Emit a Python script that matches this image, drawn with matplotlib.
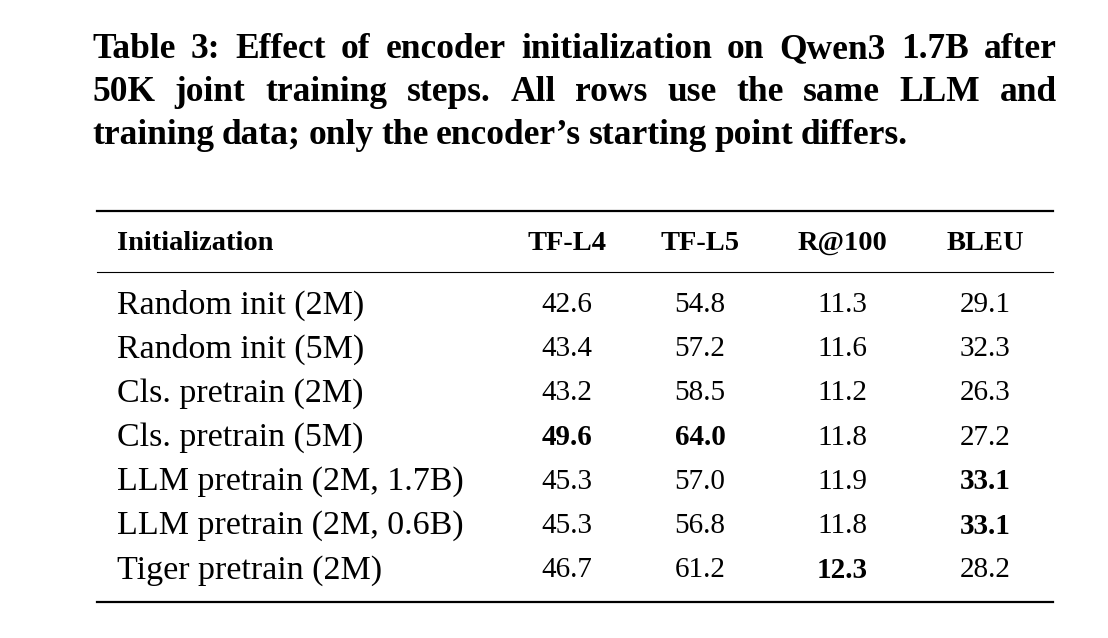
import matplotlib.pyplot as plt

W, H = 1108, 638

caption = [
    "Table 3: Effect of encoder initialization on Qwen3 1.7B after",
    "50K joint training steps. All rows use the same LLM and",
    "training data; only the encoder\u2019s starting point differs.",
]
header = ["Initialization", "TF-L4", "TF-L5", "R@100", "BLEU"]
rows = [
    "Random init (2M)",
    "Random init (5M)",
    "Cls. pretrain (2M)",
    "Cls. pretrain (5M)",
    "LLM pretrain (2M, 1.7B)",
    "LLM pretrain (2M, 0.6B)",
    "Tiger pretrain (2M)",
]
tf_l4 = [42.6, 43.4, 43.2, 49.6, 45.3, 45.3, 46.7]
tf_l5 = [54.8, 57.2, 58.5, 64.0, 57.0, 56.8, 61.2]
r100 = [11.3, 11.6, 11.2, 11.8, 11.9, 11.8, 12.3]
bleu = [29.1, 32.3, 26.3, 27.2, 33.1, 33.1, 28.2]

plt.rcParams["font.family"] = ["Liberation Serif", "DejaVu Serif"]
fig = plt.figure(figsize=(W / 100, H / 100), dpi=100)
ax = fig.add_axes([0, 0, 1, 1])
ax.set_xlim(0, W)
ax.set_ylim(H, 0)
ax.axis("off")
renderer = fig.canvas.get_renderer()

# caption, first two lines justified to the right margin
cap_left, cap_right, cap_fs = 92, 1057, 25.5
for i, line in enumerate(caption):
    y = 50 + i * 42.5
    words = line.split(" ")
    texts = [ax.text(0, y, w, fontsize=cap_fs, fontweight="bold",
                     ha="left", va="center") for w in words]
    widths = [t.get_window_extent(renderer).width for t in texts]
    if i < len(caption) - 1:
        gap = (cap_right - cap_left - sum(widths)) / (len(words) - 1)
    else:
        gap = cap_fs * 0.30
    x = cap_left
    for t, w in zip(texts, widths):
        t.set_x(x)
        x += w + gap

# rules
ax.plot([97, 1053], [211, 211], color="black", lw=1.6)
ax.plot([97, 1053], [272, 272], color="black", lw=0.8)
ax.plot([97, 1053], [602, 602], color="black", lw=1.6)

col_x = [567, 700, 842, 985]
ax.text(117, 243, header[0], fontsize=20.5, fontweight="bold", ha="left", va="center")
for x, h in zip(col_x, header[1:]):
    ax.text(x, 243, h, fontsize=20.5, fontweight="bold", ha="center", va="center")

cols = [tf_l4, tf_l5, r100, bleu]
row_y0, row_dy = 305, 44.2
for i, name in enumerate(rows):
    y = row_y0 + i * row_dy
    ax.text(117, y, name, fontsize=24.5, ha="left", va="center")
    for x, vals in zip(col_x, cols):
        best = vals[i] == max(vals)
        ax.text(x, y, f"{vals[i]:.1f}", fontsize=21, ha="center", va="center",
                fontweight="bold" if best else "normal")

fig.savefig("out.png", dpi=100, facecolor="white")
